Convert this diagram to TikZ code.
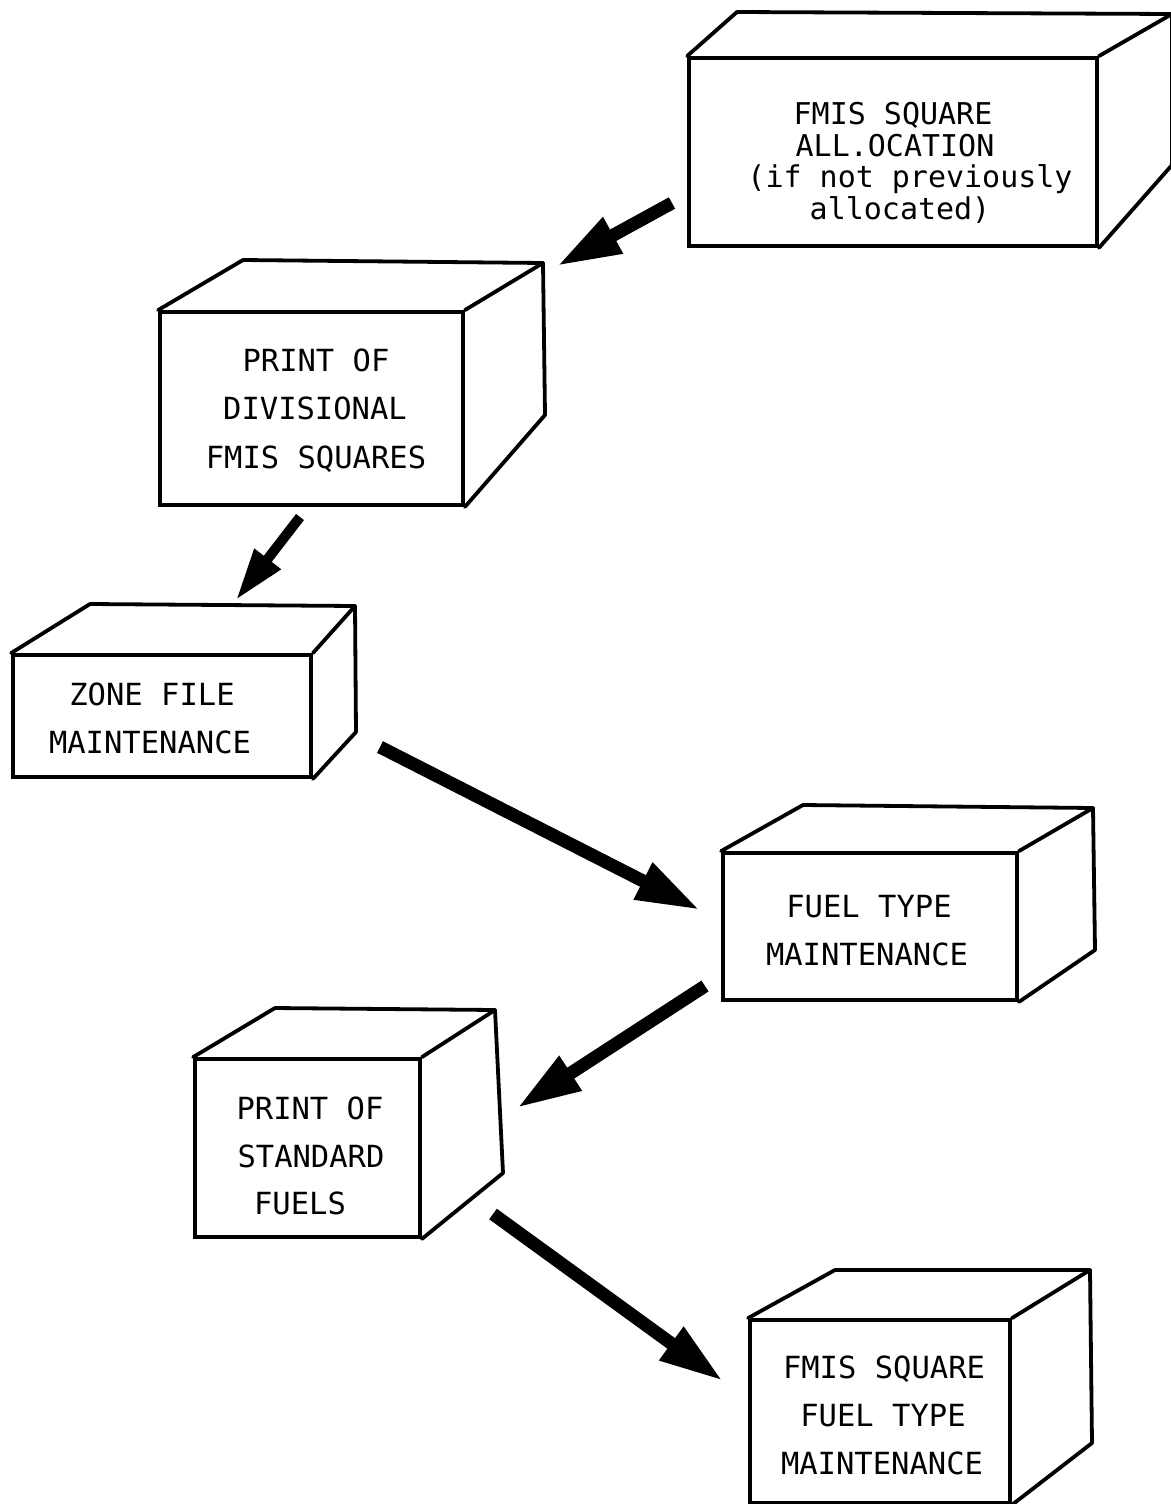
\documentclass[tikz,border=0pt]{standalone}
\usepackage{fontspec}
\setmonofont{DejaVu Sans Mono}
\usetikzlibrary{arrows.meta}
\begin{document}
\begin{tikzpicture}[x=1pt,y=-1pt,
  front/.style={draw=black, line width=3.8pt, rectangle, inner sep=0pt},
  face/.style={draw=black, line width=3.8pt, line join=round, line cap=round},
  flow/.style={line width=13pt, -{Triangle[length=64pt,width=38pt]}},
  flowsmall/.style={line width=10pt, -{Triangle[length=52pt,width=31pt]}},
  lbl/.style={font=\ttfamily\fontsize{30.5}{36}\selectfont, anchor=base, inner sep=0pt},
  lblsmall/.style={font=\ttfamily\fontsize{30}{33}\selectfont, anchor=base, inner sep=0pt}]
\useasboundingbox (0,0) rectangle (1170,1504);
\fill[white] (0,0) rectangle (1170,1504);

% ---------- Box 1: FMIS SQUARE ALLOCATION
\node[front, minimum width=408pt, minimum height=188pt] (b1) at (893,152) {};
\draw[face] (b1.north west) -- (737,12) -- (1172,14) -- (b1.north east);
\draw[face] (1172,14) -- (1172,165) -- (b1.south east);
\node[lblsmall] (t1a) at (893,124) {FMIS SQUARE};
\node[lblsmall] (t1b) at (895,156) {ALL.OCATION};
\node[lblsmall] (t1c) at (910,187) {(if not previously};
\node[lblsmall] (t1d) at (900,219) {allocated)};

% ---------- Box 2: PRINT OF DIVISIONAL FMIS SQUARES
\node[front, minimum width=303pt, minimum height=193pt] (b2) at (311.5,408.5) {};
\draw[face] (b2.north west) -- (243,260) -- (543,263) -- (b2.north east);
\draw[face] (543,263) -- (545,415) -- (b2.south east);
\node[lbl] (t2a) at (316,371) {PRINT OF};
\node[lbl] (t2b) at (315,419) {DIVISIONAL};
\node[lbl] (t2c) at (316,468) {FMIS SQUARES};

% ---------- Box 3: ZONE FILE MAINTENANCE
\node[front, minimum width=298pt, minimum height=122pt] (b3) at (162,716) {};
\draw[face] (b3.north west) -- (90,604) -- (355,606) -- (b3.north east);
\draw[face] (355,606) -- (356,732) -- (b3.south east);
\node[lbl] (t3a) at (152,705) {ZONE FILE};
\node[lbl] (t3b) at (150,753) {MAINTENANCE};

% ---------- Box 4: FUEL TYPE MAINTENANCE
\node[front, minimum width=294pt, minimum height=147pt] (b4) at (870,926.5) {};
\draw[face] (b4.north west) -- (803,805) -- (1093,808) -- (b4.north east);
\draw[face] (1093,808) -- (1095,950) -- (b4.south east);
\node[lbl] (t4a) at (869,917) {FUEL TYPE};
\node[lbl] (t4b) at (867,965) {MAINTENANCE};

% ---------- Box 5: PRINT OF STANDARD FUELS
\node[front, minimum width=225pt, minimum height=178pt] (b5) at (307.5,1148) {};
\draw[face] (b5.north west) -- (275,1008) -- (495,1010) -- (b5.north east);
\draw[face] (495,1010) -- (503,1173) -- (b5.south east);
\node[lbl] (t5a) at (310,1119) {PRINT OF};
\node[lbl] (t5b) at (311,1167) {STANDARD};
\node[lbl] (t5c) at (300,1214) {FUELS};

% ---------- Box 6: FMIS SQUARE FUEL TYPE MAINTENANCE
\node[front, minimum width=260pt, minimum height=183pt] (b6) at (880,1411.5) {};
\draw[face] (b6.north west) -- (835,1270) -- (1090,1270) -- (b6.north east);
\draw[face] (1090,1270) -- (1092,1443) -- (b6.south east);
\node[lbl] (t6a) at (884,1378) {FMIS SQUARE};
\node[lbl] (t6b) at (883,1426) {FUEL TYPE};
\node[lbl] (t6c) at (882,1474) {MAINTENANCE};

% ---------- Arrows
\coordinate (a1s) at (672,203);  \coordinate (a1e) at (557,266);
\coordinate (a2s) at (300,517);  \coordinate (a2e) at (236,600);
\coordinate (a3s) at (380,747);  \coordinate (a3e) at (700,910);
\coordinate (a4s) at (705,986);  \coordinate (a4e) at (517,1108);
\coordinate (a5s) at (493,1214); \coordinate (a5e) at (723,1381);
\draw[flow] (a1s) -- (a1e);
\draw[flowsmall] (a2s) -- (a2e);
\draw[flow] (a3s) -- (a3e);
\draw[flow] (a4s) -- (a4e);
\draw[flow] (a5s) -- (a5e);
\end{tikzpicture}
\end{document}
